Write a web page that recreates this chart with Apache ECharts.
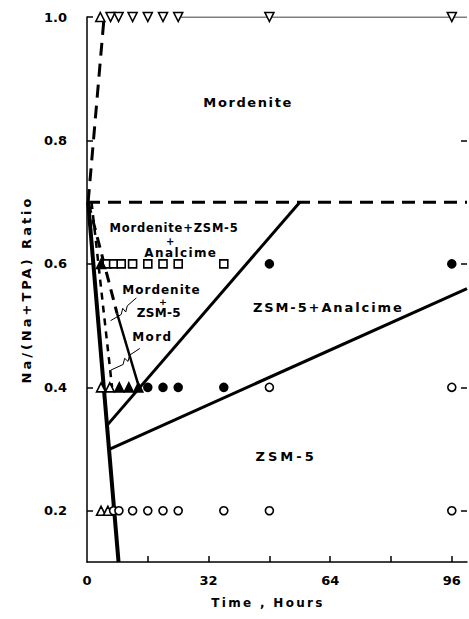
<!DOCTYPE html>
<html><head><meta charset="utf-8">
<script src="https://cdn.jsdelivr.net/npm/echarts@6/dist/echarts.min.js"></script>
<style>html,body{margin:0;padding:0;background:#fff}#chart{width:469px;height:619px}</style>
</head><body><div id="chart"></div>
<script>
// Axis ticks and labels
const ratioTicks = [0.2, 0.4, 0.6, 0.8, 1.0];
const timeLabels = [0, 32, 64, 96];
const timeTicks = [16, 32, 48, 64, 80, 96];

// Runs: [time in hours, Na/(Na+TPA) ratio], grouped by product phase
const amorphousRuns = [[3.5, 1.0], [3.7, 0.4], [6, 0.4], [3.7, 0.2], [5.5, 0.2]];
const mordeniteRuns = [[6.2, 1.0], [8.3, 1.0], [12, 1.0], [16, 1.0], [20, 1.0], [24, 1.0], [48, 1.0], [96, 1.0]];
const mordZsmAnalRuns = [[5.3, 0.6], [7, 0.6], [9, 0.6], [12, 0.6], [16, 0.6], [20, 0.6], [24, 0.6], [36, 0.6]];
const mordZsmRuns = [[3.7, 0.6], [8.5, 0.4], [11, 0.4], [13.5, 0.4]];
const zsmAnalRuns = [[48, 0.6], [96, 0.6], [16, 0.4], [20, 0.4], [24, 0.4], [36, 0.4]];
const zsmRuns = [[48, 0.4], [96, 0.4], [7, 0.2], [8.4, 0.2], [12, 0.2], [16, 0.2], [20, 0.2], [24, 0.2], [36, 0.2], [48, 0.2], [96, 0.2]];

// Phase boundaries
const mordeniteOnset = [[0.3, 0.70], [4.5, 1.0]];          // dashed
const mordeniteFloor = [[0, 0.70], [100, 0.70]];           // dashed
const analcimeEdge = [[56, 0.70], [5.5, 0.34]];            // solid
const zsmAnalEdge = [[6, 0.30], [100, 0.56]];              // solid
const crystalOnset = [[0.3, 0.70], [8.3, 0.117]];          // solid, heavy
const mordInnerDash = [[1.2, 0.70], [6.6, 0.40]];          // dashed
const mordZsmUpper = [[0.3, 0.70], [7.9, 0.52]];           // dashed
const mordZsmLower = [[7.9, 0.52], [13.7, 0.40]];          // solid
const topFrame = [[24, 1.0], [100, 1.0]];

// Label leaders
const leaderMordZsm = [[13.0, 0.545], [10.6, 0.532], [10.2, 0.522], [9.4, 0.528], [9.0, 0.518], [6.2, 0.508]];
const leaderMord = [[13.9, 0.463], [11.2, 0.452], [10.8, 0.442], [9.9, 0.447], [9.5, 0.437], [6.3, 0.428]];

// Region names: [time, ratio, text]
const regionNames = [
  [42.4, 0.861, 'Mordenite'],
  [22.9, 0.658, 'Mordenite+ZSM-5'],
  [21.9, 0.637, '+'],
  [24.7, 0.617, 'Analcime'],
  [19.6, 0.557, 'Mordenite'],
  [20.0, 0.539, '+'],
  [18.9, 0.520, 'ZSM-5'],
  [17.2, 0.481, 'Mord'],
  [63.5, 0.529, 'ZSM-5+Analcime'],
  [52.4, 0.288, 'ZSM-5']
];
// Lettering for each region name: [font size, tracking in px]
const regionLettering = [[13, 1.6], [11.5, 0.8], [10, 0], [12, 1.4], [12, 1.0], [9.5, 0], [12, 0.3], [12, 1.4], [13, 1.9], [13, 3]];

const FONT = 'DejaVu Sans';
const INK = '#000';

function boundary(data, dashed, width, dash) {
  return {
    type: 'line', data, symbol: 'none', silent: true, z: 2,
    lineStyle: { color: INK, width: width, type: dashed ? (dash || [13, 8]) : 'solid', cap: 'butt' }
  };
}
function leader(data) {
  return { type: 'line', data, symbol: 'none', silent: true, z: 2,
    lineStyle: { color: INK, width: 1 } };
}
function runs(data, symbol, filled, size, rotate) {
  return {
    type: 'scatter', data, symbol, symbolSize: size, symbolRotate: rotate || 0, z: 5,
    itemStyle: { color: filled ? INK : '#fff', borderColor: INK, borderWidth: 1.6, opacity: 1 }
  };
}

const axisTitle = {
  type: 'text', x: 268, y: 603, z: 10,
  style: { text: 'Time , Hours', fill: INK, font: 'bold 12px "DejaVu Sans"', align: 'center', verticalAlign: 'middle' }
};

const chart = echarts.init(document.getElementById('chart'), null, { renderer: 'svg' });
chart.setOption({
  backgroundColor: '#fff',
  animation: false,
  grid: { left: 87, right: 2, top: 17, bottom: 57 },
  xAxis: {
    type: 'value', min: 0, max: 100,
    axisLine: { show: true, lineStyle: { color: INK, width: 1.5 } },
    axisTick: { show: true, inside: true, length: 6, lineStyle: { color: INK, width: 1.5 }, customValues: timeTicks },
    axisLabel: { customValues: timeLabels, color: INK, fontFamily: FONT, fontWeight: 'bold', fontSize: 13, margin: 12 },
    splitLine: { show: false }
  },
  yAxis: [{
    type: 'value', min: 0.117, max: 1.0,
    name: 'Na/(Na+TPA) Ratio', nameLocation: 'middle', nameGap: 51, nameRotate: 90,
    nameTextStyle: { color: INK, fontFamily: FONT, fontWeight: 'bold', fontSize: 13 },
    axisLine: { show: true, lineStyle: { color: INK, width: 1.5 } },
    axisTick: { show: true, inside: true, length: 6, lineStyle: { color: INK, width: 1.5 }, customValues: ratioTicks },
    axisLabel: { customValues: ratioTicks, color: INK, fontFamily: FONT, fontWeight: 'bold', fontSize: 13, margin: 20,
      formatter: v => v.toFixed(1) },
    splitLine: { show: false }
  }, {
    type: 'value', min: 0.117, max: 1.0, position: 'right',
    axisLine: { show: false },
    axisTick: { show: true, inside: true, length: 6, lineStyle: { color: INK, width: 1.5 }, customValues: [0.2, 0.4, 0.6, 0.8] },
    axisLabel: { show: false },
    splitLine: { show: false }
  }],
  graphic: [axisTitle],
  series: [
    boundary(topFrame, false, 1),
    boundary(mordeniteOnset, true, 3),
    boundary(mordeniteFloor, true, 3),
    boundary(analcimeEdge, false, 3),
    boundary(zsmAnalEdge, false, 3),
    boundary(crystalOnset, false, 4),
    boundary(mordInnerDash, true, 2.5, [7, 6]),
    boundary(mordZsmUpper, true, 3, [11, 7]),
    boundary(mordZsmLower, false, 2.5),
    leader(leaderMordZsm),
    leader(leaderMord),
    runs(amorphousRuns, 'triangle', false, 9),
    runs(mordeniteRuns, 'triangle', false, 9, 180),
    runs(mordZsmAnalRuns, 'rect', false, 8),
    runs(mordZsmRuns, 'triangle', true, 9),
    runs(zsmAnalRuns, 'circle', true, 8),
    runs(zsmRuns, 'circle', false, 8)
  ]
});

// Region names placed through the grid's coordinate system
const regionText = regionNames.map((r, i) => {
  const p = chart.convertToPixel({ gridIndex: 0 }, [r[0], r[1]]);
  return {
    type: 'text', x: p[0], y: p[1], z: 10, silent: true,
    style: { text: r[2], fill: INK, font: 'bold ' + regionLettering[i][0] + 'px "DejaVu Sans"',
      align: 'center', verticalAlign: 'middle' }
  };
});
chart.setOption({ graphic: [axisTitle].concat(regionText) });

// Wide tracking of the lettering, applied to the rendered SVG text
const tracking = {};
regionNames.forEach((r, i) => { tracking[r[2] + '|' + regionLettering[i][0]] = regionLettering[i][1]; });
tracking['Na/(Na+TPA) Ratio|13'] = 3;
tracking['Time , Hours|12'] = 2.3;
function applyTracking() {
  document.querySelectorAll('#chart svg text').forEach(el => {
    const size = parseFloat(getComputedStyle(el).fontSize);
    const key = el.textContent + '|' + size;
    if (key in tracking) el.style.letterSpacing = tracking[key] + 'px';
  });
}
applyTracking();
chart.on('finished', applyTracking);
setTimeout(applyTracking, 50);
</script>
</body></html>
